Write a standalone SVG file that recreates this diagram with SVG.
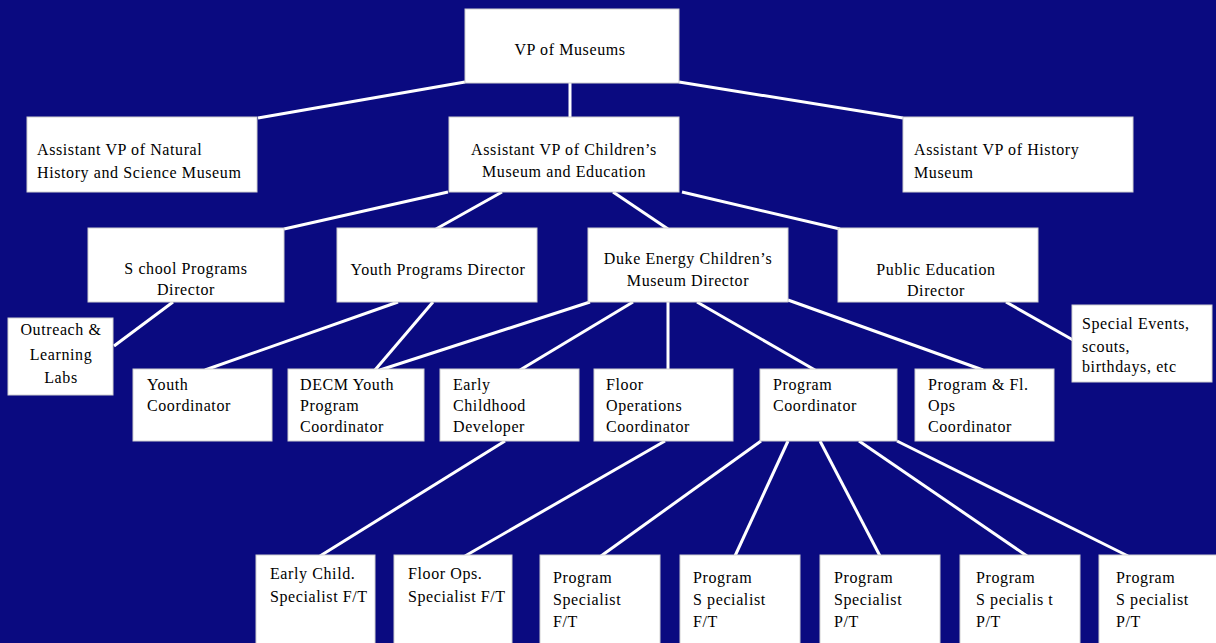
<svg xmlns="http://www.w3.org/2000/svg" width="1216" height="643" viewBox="0 0 1216 643">
<style>
.bg{fill:#0a0a80}
.box{fill:#ffffff;stroke:#d0d0d0;stroke-width:1}
.c{stroke:#ffffff;stroke-width:3;fill:none}
text{font-family:"Liberation Serif","Times New Roman",serif;font-size:16px;letter-spacing:0.6px;fill:#000}
.m{text-anchor:middle}
</style>
<rect class="bg" x="0" y="0" width="1216" height="643"/>
<g id="connectors">
<line class="c" x1="465" y1="82" x2="258" y2="118"/>
<line class="c" x1="570" y1="83" x2="570" y2="118"/>
<line class="c" x1="679" y1="82" x2="903" y2="118"/>
<line class="c" x1="448" y1="192" x2="284" y2="229"/>
<line class="c" x1="502" y1="192" x2="436" y2="229"/>
<line class="c" x1="613" y1="192" x2="668" y2="229"/>
<line class="c" x1="682" y1="192" x2="840" y2="229"/>
<line class="c" x1="173" y1="302" x2="114" y2="346"/>
<line class="c" x1="398" y1="302" x2="205" y2="370"/>
<line class="c" x1="433" y1="302" x2="375" y2="370"/>
<line class="c" x1="590" y1="302" x2="380" y2="370"/>
<line class="c" x1="633" y1="302" x2="520" y2="370"/>
<line class="c" x1="668" y1="302" x2="668" y2="370"/>
<line class="c" x1="697" y1="302" x2="815" y2="370"/>
<line class="c" x1="788" y1="300" x2="983" y2="370"/>
<line class="c" x1="1006" y1="302" x2="1073" y2="340"/>
<line class="c" x1="505" y1="441" x2="320" y2="556"/>
<line class="c" x1="665" y1="441" x2="465" y2="556"/>
<line class="c" x1="761" y1="441" x2="601" y2="556"/>
<line class="c" x1="788" y1="441" x2="735" y2="556"/>
<line class="c" x1="820" y1="441" x2="880" y2="556"/>
<line class="c" x1="859" y1="441" x2="1027" y2="556"/>
<line class="c" x1="897" y1="441" x2="1128" y2="556"/>
</g>
<g id="vp"><rect class="box" x="465" y="9" width="214" height="74"/><text class="m" x="570" y="55">VP of Museums</text></g>
<g id="avp-natural"><rect class="box" x="27" y="117" width="230" height="75"/><text x="37" y="155">Assistant VP of Natural</text><text x="37" y="178">History and Science Museum</text></g>
<g id="avp-children"><rect class="box" x="449" y="117" width="230" height="75"/><text class="m" x="564" y="155">Assistant VP of Children’s</text><text class="m" x="564" y="177">Museum and Education</text></g>
<g id="avp-history"><rect class="box" x="903" y="117" width="230" height="75"/><text x="914" y="155">Assistant VP of History</text><text x="914" y="178">Museum</text></g>
<g id="school"><rect class="box" x="88" y="228" width="196" height="74"/><text class="m" x="186" y="274">S chool Programs</text><text class="m" x="186" y="295">Director</text></g>
<g id="youth-dir"><rect class="box" x="337" y="228" width="200" height="74"/><text class="m" x="438" y="275">Youth Programs Director</text></g>
<g id="duke"><rect class="box" x="588" y="228" width="200" height="74"/><text class="m" x="688" y="264">Duke Energy Children’s</text><text class="m" x="688" y="286">Museum Director</text></g>
<g id="public-ed"><rect class="box" x="838" y="228" width="200" height="74"/><text class="m" x="936" y="275">Public Education</text><text class="m" x="936" y="296">Director</text></g>
<g id="outreach"><rect class="box" x="8" y="318" width="105" height="77"/><text class="m" x="61" y="335">Outreach &amp;</text><text class="m" x="61" y="360">Learning</text><text class="m" x="61" y="383">Labs</text></g>
<g id="special"><rect class="box" x="1072" y="305" width="140" height="77"/><text x="1082" y="329">Special Events,</text><text x="1082" y="352">scouts,</text><text x="1082" y="372">birthdays, etc</text></g>
<g id="youth-coord"><rect class="box" x="133" y="369" width="139" height="72"/><text x="147" y="390">Youth</text><text x="147" y="411">Coordinator</text></g>
<g id="decm"><rect class="box" x="288" y="369" width="136" height="72"/><text x="300" y="390">DECM Youth</text><text x="300" y="411">Program</text><text x="300" y="432">Coordinator</text></g>
<g id="early-dev"><rect class="box" x="440" y="369" width="139" height="72"/><text x="453" y="390">Early</text><text x="453" y="411">Childhood</text><text x="453" y="432">Developer</text></g>
<g id="floor-coord"><rect class="box" x="594" y="369" width="139" height="72"/><text x="606" y="390">Floor</text><text x="606" y="411">Operations</text><text x="606" y="432">Coordinator</text></g>
<g id="prog-coord"><rect class="box" x="760" y="369" width="137" height="72"/><text x="773" y="390">Program</text><text x="773" y="411">Coordinator</text></g>
<g id="progfl-coord"><rect class="box" x="915" y="369" width="139" height="72"/><text x="928" y="390">Program &amp; Fl.</text><text x="928" y="411">Ops</text><text x="928" y="432">Coordinator</text></g>
<g id="early-spec"><rect class="box" x="256" y="555" width="119" height="95"/><text x="270" y="579">Early Child.</text><text x="270" y="602">Specialist F/T</text></g>
<g id="floor-spec"><rect class="box" x="394" y="555" width="118" height="95"/><text x="408" y="579">Floor Ops.</text><text x="408" y="602">Specialist F/T</text></g>
<g id="prog-spec-1"><rect class="box" x="540" y="555" width="120" height="95"/><text x="553" y="583">Program</text><text x="553" y="605">Specialist</text><text x="553" y="627">F/T</text></g>
<g id="prog-spec-2"><rect class="box" x="680" y="555" width="120" height="95"/><text x="693" y="583">Program</text><text x="693" y="605">S pecialist</text><text x="693" y="627">F/T</text></g>
<g id="prog-spec-3"><rect class="box" x="820" y="555" width="120" height="95"/><text x="834" y="583">Program</text><text x="834" y="605">Specialist</text><text x="834" y="627">P/T</text></g>
<g id="prog-spec-4"><rect class="box" x="960" y="555" width="120" height="95"/><text x="976" y="583">Program</text><text x="976" y="605">S pecialis t</text><text x="976" y="627">P/T</text></g>
<g id="prog-spec-5"><rect class="box" x="1099" y="555" width="120" height="95"/><text x="1116" y="583">Program</text><text x="1116" y="605">S pecialist</text><text x="1116" y="627">P/T</text></g>
</svg>
